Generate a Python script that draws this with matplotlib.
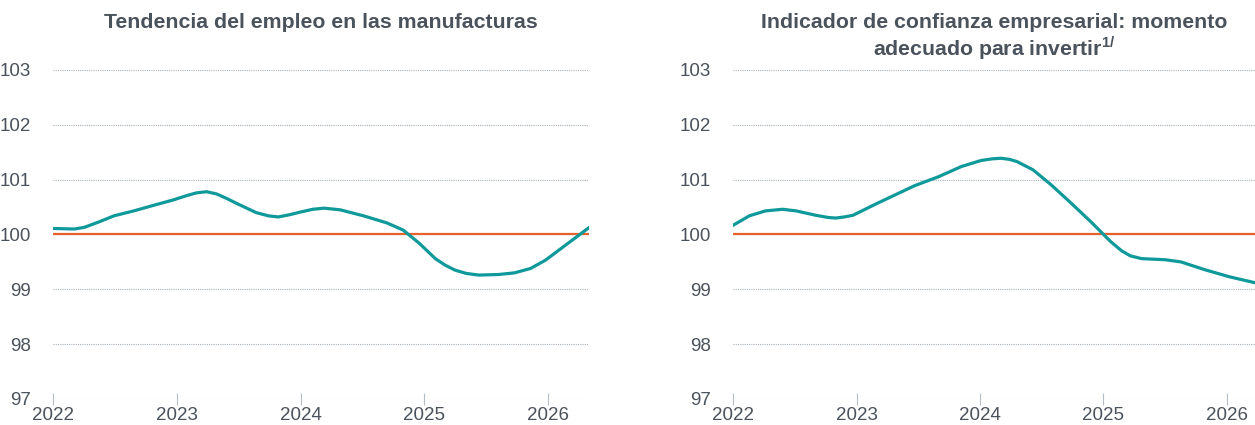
import matplotlib
matplotlib.use("Agg")
import matplotlib.pyplot as plt

plt.rcParams['font.family'] = ['Liberation Sans', 'DejaVu Sans']
plt.rcParams['mathtext.fontset'] = 'custom'
plt.rcParams['mathtext.rm'] = 'Liberation Sans'
plt.rcParams['mathtext.bf'] = 'Liberation Sans:bold'

# Tendencia del empleo en las manufacturas (decimal years, index)
emp_x = [2022.00, 2022.17, 2022.25, 2022.37, 2022.49, 2022.65, 2022.84, 2022.97, 2023.08,
         2023.16, 2023.24, 2023.32, 2023.40, 2023.48, 2023.64, 2023.74, 2023.82, 2023.91,
         2024.00, 2024.10, 2024.19, 2024.32, 2024.51, 2024.70, 2024.83, 2024.96, 2025.09,
         2025.17, 2025.25, 2025.34, 2025.44, 2025.60, 2025.73, 2025.86, 2025.98, 2026.14,
         2026.33]
emp_y = [100.11, 100.10, 100.13, 100.23, 100.34, 100.43, 100.55, 100.63, 100.71,
         100.76, 100.78, 100.74, 100.66, 100.57, 100.40, 100.34, 100.32, 100.36,
         100.41, 100.46, 100.48, 100.45, 100.34, 100.21, 100.08, 99.84, 99.56,
         99.44, 99.35, 99.29, 99.26, 99.27, 99.30, 99.38, 99.53, 99.80,
         100.12]

# Indicador de confianza empresarial: momento adecuado para invertir
inv_x = [2022.00, 2022.13, 2022.26, 2022.40, 2022.51, 2022.67, 2022.77, 2022.83, 2022.90,
         2022.97, 2023.15, 2023.31, 2023.47, 2023.66, 2023.85, 2024.01, 2024.10, 2024.17,
         2024.24, 2024.30, 2024.43, 2024.58, 2024.74, 2024.90, 2025.06, 2025.15, 2025.22,
         2025.31, 2025.50, 2025.63, 2025.82, 2026.02, 2026.23]
inv_y = [100.17, 100.34, 100.43, 100.46, 100.43, 100.35, 100.31, 100.30, 100.32,
         100.35, 100.55, 100.72, 100.89, 101.05, 101.24, 101.35, 101.38, 101.39,
         101.37, 101.33, 101.18, 100.90, 100.57, 100.23, 99.87, 99.70, 99.61,
         99.56, 99.54, 99.50, 99.36, 99.23, 99.12]

years = [2022, 2023, 2024, 2025, 2026]
yticks = [97, 98, 99, 100, 101, 102, 103]

teal = '#10999a'
orange = '#e8602c'
txt = '#4a525c'

fig = plt.figure(figsize=(12.55, 4.25), dpi=100)
ax1 = fig.add_axes([0.0425, 0.0612, 0.4268, 0.7741])
ax2 = fig.add_axes([0.5843, 0.0612, 0.4157, 0.7741])

panels = [
    (ax1, emp_x, emp_y, 2026.333, "Tendencia del empleo en las manufacturas"),
    (ax2, inv_x, inv_y, 2026.23,
     "Indicador de confianza empresarial: momento\nadecuado para invertir$^{\\mathbf{1/}}$"),
]

for ax, x, y, xmax, title in panels:
    ax.axhline(100, color=orange, lw=1.6, zorder=2)
    ax.plot(x, y, color=teal, lw=2.3, zorder=3, solid_joinstyle='round')
    ax.set_xlim(2022, xmax)
    ax.set_ylim(97, 103)
    ax.set_yticks(yticks)
    ax.set_xticks(years)
    ax.set_xticklabels([str(v) for v in years])
    for v in yticks:
        ax.axhline(v, color='#a9b1ba', lw=0.8, ls=(0, (1, 1)), zorder=1)
    for s in ax.spines.values():
        s.set_visible(False)
    ax.tick_params(axis='y', length=0, pad=16, labelsize=13.5, labelcolor=txt)
    ax.tick_params(axis='x', direction='inout', length=9, width=0.8, color='#b5bcc4',
                   pad=1, labelsize=13.5, labelcolor=txt)
    cx = (ax.get_position().x0 + ax.get_position().x1) / 2
    fig.text(cx, 0.97, title, ha='center', va='top', fontsize=15.3, fontweight='bold',
             color=txt, linespacing=1.12)

fig.savefig("out.png", dpi=100)
